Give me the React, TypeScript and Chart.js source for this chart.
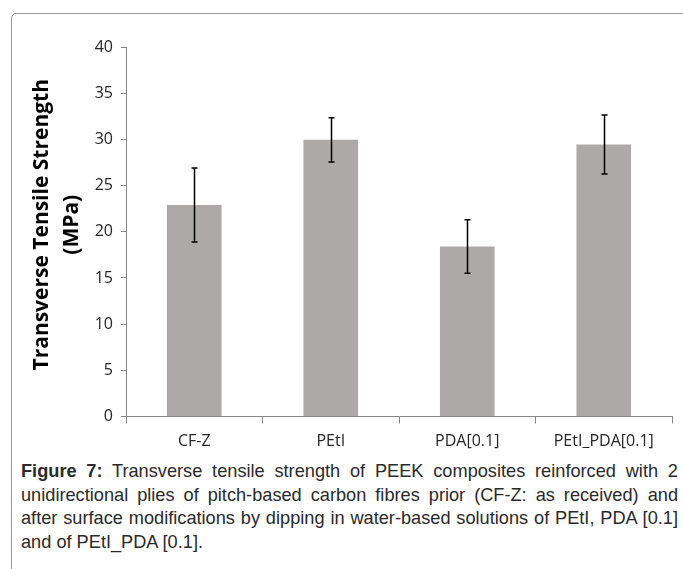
import React, { useEffect, useRef } from "react";
import { Chart, registerables } from "chart.js";

Chart.register(...registerables);

const categories = ["CF-Z", "PEtI", "PDA[0.1]", "PEtI_PDA[0.1]"];
const strengthValues = [22.9, 29.95, 18.4, 29.45];
const strengthErrors = [4.0, 2.4, 2.9, 3.2];
const yTitle = ["Transverse Tensile Strength", "(MPa)"];
const captionLines = [
  "Transverse tensile strength of PEEK composites reinforced with 2",
  "unidirectional plies of pitch-based carbon fibres prior (CF-Z: as received) and",
  "after surface modifications by dipping in water-based solutions of PEtI, PDA [0.1]",
  "and of PEtI_PDA [0.1].",
];

const errorBarPlugin = {
  id: "errorBars",
  afterDatasetsDraw(chart: any) {
    const meta = chart.getDatasetMeta(0);
    const y = chart.scales.y;
    const ctx = chart.ctx;
    ctx.save();
    ctx.strokeStyle = "#000";
    ctx.lineWidth = 1.5;
    meta.data.forEach((bar: any, i: number) => {
      const v = strengthValues[i];
      const e = strengthErrors[i];
      const x = Math.round(bar.x) + 0.5;
      const yTop = y.getPixelForValue(v + e);
      const yBot = y.getPixelForValue(v - e);
      ctx.beginPath();
      ctx.moveTo(x, yTop);
      ctx.lineTo(x, yBot);
      ctx.moveTo(x - 3, yTop);
      ctx.lineTo(x + 3, yTop);
      ctx.moveTo(x - 3, yBot);
      ctx.lineTo(x + 3, yBot);
      ctx.stroke();
    });
    ctx.restore();
  },
};

const yTitlePlugin = {
  id: "yTitle",
  afterDraw(chart: any) {
    const ctx = chart.ctx;
    const area = chart.chartArea;
    const cy = (area.top + area.bottom) / 2 - 7;
    ctx.save();
    ctx.translate(42, cy);
    ctx.rotate(-Math.PI / 2);
    ctx.fillStyle = "#000";
    ctx.font = "bold 21px 'Open Sans', sans-serif";
    ctx.textAlign = "center";
    ctx.textBaseline = "middle";
    yTitle.forEach((t, i) => ctx.fillText(t, 0, i * 30));
    ctx.restore();
  },
};

export default function App() {
  const ref = useRef<HTMLCanvasElement>(null);
  useEffect(() => {
    if (!ref.current) return;
    const chart = new Chart(ref.current, {
      type: "bar",
      data: {
        labels: categories,
        datasets: [
          {
            data: strengthValues,
            backgroundColor: "#ADA9A8",
            borderWidth: 0,
            categoryPercentage: 1,
            barPercentage: 0.4,
          },
        ],
      },
      options: {
        responsive: false,
        animation: false,
        layout: { padding: { top: 47, right: 11, left: 0, bottom: 0 } },
        plugins: { legend: { display: false }, tooltip: { enabled: false } },
        scales: {
          x: {
            offset: true,
            grid: {
              offset: true,
              drawOnChartArea: false,
              drawTicks: true,
              tickLength: 7,
              color: "#868686",
            },
            border: { color: "#868686" },
            ticks: {
              color: "#262626",
              padding: 8,
              font: { family: "'Open Sans', sans-serif", size: 16 },
            },
            afterFit: (s: any) => {
              s.height = 43.5;
            },
          },
          y: {
            min: 0,
            max: 40,
            ticks: {
              stepSize: 5,
              color: "#262626",
              padding: 8,
              font: { family: "'Open Sans', sans-serif", size: 16 },
            },
            grid: {
              drawOnChartArea: false,
              tickLength: 5,
              color: "#868686",
            },
            border: { color: "#868686" },
            afterFit: (s: any) => {
              s.width = 126;
            },
          },
        },
      },
      plugins: [errorBarPlugin, yTitlePlugin],
    });
    return () => chart.destroy();
  }, []);

  const lineStyle = (last: boolean): React.CSSProperties => ({
    textAlign: last ? "left" : "justify",
    textAlignLast: last ? "left" : "justify",
    whiteSpace: "nowrap",
    height: 23.7,
  });

  return (
    <div
      style={{
        position: "fixed",
        left: 0,
        top: 0,
        width: 683,
        height: 569,
        overflow: "hidden",
        background: "#fff",
      }}
    >
      <div
        style={{
          position: "absolute",
          left: 11,
          top: 13,
          width: 720,
          height: 620,
          border: "1px solid #9a9a9a",
          borderTopLeftRadius: 5,
          boxSizing: "border-box",
        }}
      />
      <canvas
        ref={ref}
        width={683}
        height={460}
        style={{ position: "absolute", left: 0, top: 0, width: 683, height: 460 }}
      />
      <div
        style={{
          position: "absolute",
          left: 21,
          top: 460,
          width: 657,
          fontFamily: "'Liberation Sans', Arial, sans-serif",
          fontSize: 18.2,
          lineHeight: "23.7px",
          color: "#2a2a2a",
        }}
      >
        {captionLines.map((line, i) => (
          <div key={i} style={lineStyle(i === captionLines.length - 1)}>
            {i === 0 ? (
              <>
                <b>Figure 7:</b> {line}
              </>
            ) : (
              line
            )}
          </div>
        ))}
      </div>
    </div>
  );
}
